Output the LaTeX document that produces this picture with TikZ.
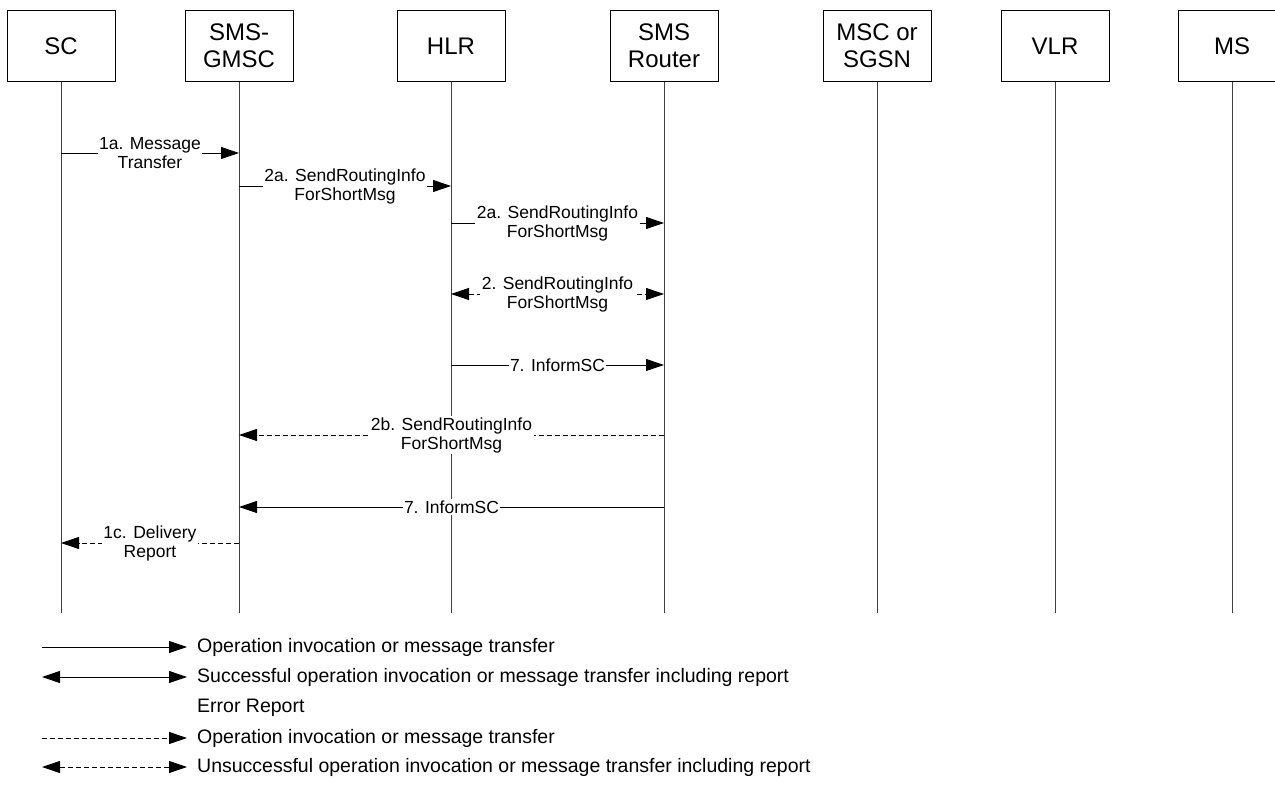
\documentclass[tikz,border=0pt]{standalone}
\usepackage{fontspec}
\setmainfont{Liberation Sans}
\usetikzlibrary{arrows.meta}
\begin{document}
\begin{tikzpicture}[x=1pt,y=-1pt,
  ent/.style={draw, line width=0.8pt, minimum width=108pt, minimum height=71pt, anchor=north, font=\fontsize{24}{27}\selectfont, align=center, inner sep=0pt},
  life/.style={draw=black!75, line width=0.9pt},
  tip/.tip={Triangle[length=18pt,width=12pt]},
  msg/.style={line width=0.9pt, -tip},
  bmsg/.style={line width=0.9pt, tip-tip},
  dsh/.style={dash pattern=on 5pt off 3pt},
  lbl/.style={fill=white, inner sep=1.5pt, align=center, font=\fontsize{17.5}{19}\selectfont},
  leg/.style={anchor=west, font=\fontsize{19.5}{21}\selectfont, inner sep=0pt}
]
\useasboundingbox (0,0) rectangle (1275,799);
% entities
\node[ent] (sc)  at (61,10)   {SC};
\node[ent] (gm)  at (239,10)  {SMS-\\GMSC};
\node[ent] (hlr) at (451,10)  {HLR};
\node[ent] (rt)  at (664,10)  {SMS\\Router};
\node[ent] (msc) at (877,10)  {MSC or\\SGSN};
\node[ent] (vlr) at (1055,10) {VLR};
\node[ent] (ms)  at (1232,10) {MS};
% lifeline ends
\coordinate (scE)  at (61,613);
\coordinate (gmE)  at (239,613);
\coordinate (hlrE) at (451,613);
\coordinate (rtE)  at (664,613);
\coordinate (mscE) at (877,613);
\coordinate (vlrE) at (1055,613);
\coordinate (msE)  at (1232,613);
\foreach \a/\b in {sc/scE,gm/gmE,hlr/hlrE,rt/rtE,msc/mscE,vlr/vlrE,ms/msE}
  \draw[life] (\a.south) -- (\b);
% message points
\coordinate (sc1) at (61,153);  \coordinate (gm1) at (239,153);
\coordinate (gm2) at (239,186); \coordinate (hl2) at (451,186);
\coordinate (hl3) at (451,223); \coordinate (rt3) at (664,223);
\coordinate (hl4) at (451,294); \coordinate (rt4) at (664,294);
\coordinate (hl5) at (451,365); \coordinate (rt5) at (664,365);
\coordinate (rt6) at (664,435); \coordinate (gm6) at (239,435);
\coordinate (rt7) at (664,507); \coordinate (gm7) at (239,507);
\coordinate (gm8) at (239,543); \coordinate (sc8) at (61,543);
% messages
\draw[msg] (sc1) -- node[lbl]{1a. Message\\Transfer} (gm1);
\draw[msg] (gm2) -- node[lbl]{2a. SendRoutingInfo\\ForShortMsg} (hl2);
\draw[msg] (hl3) -- node[lbl]{2a. SendRoutingInfo\\ForShortMsg} (rt3);
\draw[bmsg,dsh] (hl4) -- node[lbl]{2. SendRoutingInfo\\ForShortMsg} (rt4);
\draw[msg] (hl5) -- node[lbl]{7. InformSC} (rt5);
\draw[msg,dsh] (rt6) -- node[lbl]{2b. SendRoutingInfo\\ForShortMsg} (gm6);
\draw[msg] (rt7) -- node[lbl]{7. InformSC} (gm7);
\draw[msg,dsh] (gm8) -- node[lbl]{1c. Delivery\\Report} (sc8);
% legend
\coordinate (la1) at (42,647); \coordinate (lb1) at (187,647);
\coordinate (la2) at (42,677); \coordinate (lb2) at (187,677);
\coordinate (la4) at (42,738); \coordinate (lb4) at (187,738);
\coordinate (la5) at (42,767); \coordinate (lb5) at (187,767);
\draw[msg] (la1) -- (lb1);
\draw[bmsg] (la2) -- (lb2);
\draw[msg,dsh] (la4) -- (lb4);
\draw[bmsg,dsh] (la5) -- (lb5);
\node[leg] (t1) at (197,647) {Operation invocation or message transfer};
\node[leg] (t2) at (197,677) {Successful operation invocation or message transfer including report};
\node[leg] (t3) at (197,708) {Error Report};
\node[leg] (t4) at (197,738) {Operation invocation or message transfer};
\node[leg] (t5) at (197,767) {Unsuccessful operation invocation or message transfer including report};
\end{tikzpicture}
\end{document}
